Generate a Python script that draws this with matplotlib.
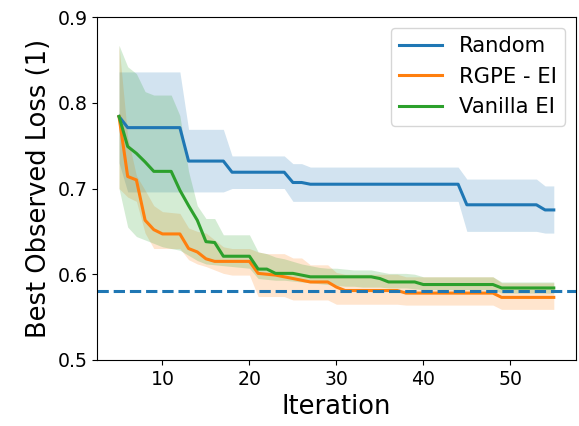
import numpy as np
import matplotlib.pyplot as plt

iterations = np.arange(5, 56)

# Random search
random_mean = [0.784, 0.771, 0.771, 0.771, 0.771, 0.771, 0.771, 0.771,
               0.732, 0.732, 0.732, 0.732, 0.732,
               0.719, 0.719, 0.719, 0.719, 0.719, 0.719, 0.719,
               0.707, 0.707] + [0.705] * 18 + [0.681] * 9 + [0.675, 0.675]
random_upper = [0.836] * 8 + [0.769] * 5 + [0.738] * 7 + [0.729, 0.729] + [0.725] * 18 + [0.711] * 9 + [0.703, 0.703]
random_lower = [0.730] + [0.696] * 12 + [0.700] * 7 + [0.685] * 20 + [0.650] * 9 + [0.648, 0.648]

# RGPE - EI
rgpe_mean = [0.784, 0.714, 0.710, 0.663, 0.652, 0.647, 0.647, 0.647,
             0.630, 0.626, 0.618, 0.615, 0.615, 0.615, 0.615, 0.615,
             0.601, 0.600, 0.599, 0.597, 0.595, 0.593, 0.591, 0.591, 0.591,
             0.585] + [0.581] * 7 + [0.578] * 11 + [0.573] * 7
rgpe_upper = [0.867, 0.760, 0.715, 0.698, 0.680, 0.673, 0.672, 0.671,
              0.654, 0.650, 0.648, 0.640, 0.632, 0.630, 0.630, 0.630,
              0.626, 0.624, 0.624, 0.624, 0.619, 0.619, 0.611, 0.611, 0.611,
              0.602] + [0.600] * 7 + [0.597] * 11 + [0.590] * 7
rgpe_lower = [0.700, 0.690, 0.685, 0.648, 0.630, 0.630, 0.630, 0.630,
              0.617, 0.612, 0.609, 0.605, 0.601, 0.599, 0.599, 0.599,
              0.574, 0.574, 0.574, 0.574, 0.570, 0.570, 0.570, 0.570, 0.570,
              0.565] + [0.565] * 7 + [0.564] * 11 + [0.559] * 7

# Vanilla EI
vanilla_mean = [0.784, 0.749, 0.741, 0.731, 0.720, 0.720, 0.720, 0.698,
                0.680, 0.663, 0.638, 0.637, 0.621, 0.621, 0.621, 0.621,
                0.606, 0.606, 0.601, 0.601, 0.601, 0.599, 0.597, 0.597, 0.597,
                0.597, 0.597, 0.597, 0.597, 0.597, 0.595, 0.591, 0.591, 0.591,
                0.591] + [0.588] * 9 + [0.584] * 7
vanilla_upper = [0.867, 0.842, 0.834, 0.813, 0.809, 0.809, 0.809, 0.785,
                 0.720, 0.680, 0.665, 0.665, 0.646, 0.646, 0.646, 0.646,
                 0.626, 0.624, 0.620, 0.618, 0.615, 0.612, 0.610, 0.608, 0.607,
                 0.607, 0.606, 0.605, 0.605, 0.605, 0.603, 0.601, 0.601, 0.601,
                 0.600] + [0.597] * 9 + [0.591] * 7
vanilla_lower = [0.700, 0.655, 0.644, 0.640, 0.636, 0.632, 0.630, 0.628,
                 0.622, 0.616, 0.612, 0.611, 0.610, 0.609, 0.608, 0.607,
                 0.595, 0.594, 0.593, 0.593, 0.592, 0.591, 0.590, 0.589, 0.588,
                 0.587, 0.586, 0.586, 0.585, 0.585, 0.585, 0.584, 0.584, 0.584,
                 0.583] + [0.582] * 9 + [0.578] * 7

threshold = 0.58

fig = plt.figure(figsize=(5.79, 4.26), dpi=100)
ax = fig.add_axes([0.168, 0.155, 0.826, 0.805])

series = [
    ("Random", random_mean, random_lower, random_upper, "tab:blue"),
    ("RGPE - EI", rgpe_mean, rgpe_lower, rgpe_upper, "tab:orange"),
    ("Vanilla EI", vanilla_mean, vanilla_lower, vanilla_upper, "tab:green"),
]
for name, mean, lo, hi, col in series:
    ax.plot(iterations, mean, color=col, lw=2.2, label=name)
    ax.fill_between(iterations, lo, hi, color=col, alpha=0.2, lw=0)

ax.axhline(threshold, color="tab:blue", ls="--", lw=2.2)

ax.set_ylim(0.5, 0.9)
ax.set_yticks([0.5, 0.6, 0.7, 0.8, 0.9])
ax.set_xticks([10, 20, 30, 40, 50])
ax.tick_params(labelsize=13.6)
ax.set_xlabel("Iteration", fontsize=18.5)
ax.set_ylabel("Best Observed Loss (1)", fontsize=18.5)
ax.legend(loc="upper right", fontsize=15.2)

fig.savefig("out.png", dpi=100)
